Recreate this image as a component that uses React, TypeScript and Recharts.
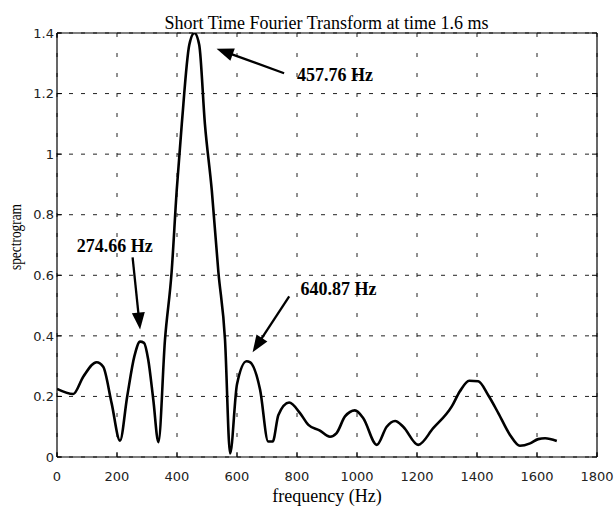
import React from 'react';
import { LineChart, Line, XAxis, YAxis, CartesianGrid, ReferenceLine, ReferenceDot } from 'recharts';

const frequencies = [
  0, 54, 88, 132, 154, 182, 210, 234, 258, 277, 290, 304, 321, 338, 360, 382, 399, 416, 441, 458,
  474, 493, 516, 538, 560, 577, 600, 632, 643, 677, 704, 719, 738, 774, 810, 838, 875, 910, 932, 960,
  993, 1021, 1066, 1099, 1127, 1154, 1204, 1254, 1316, 1343, 1374, 1404, 1438, 1471, 1510, 1543, 1577,
  1604, 1627, 1666,
];
const spectrogram = [
  0.225, 0.208, 0.266, 0.313, 0.298, 0.178, 0.054, 0.2, 0.333, 0.381, 0.377, 0.322, 0.189, 0.049, 0.388,
  0.61, 0.88, 1.1, 1.361, 1.4, 1.361, 1.1, 0.88, 0.61, 0.388, 0.012, 0.24, 0.316, 0.313, 0.222, 0.051,
  0.051, 0.139, 0.18, 0.145, 0.106, 0.088, 0.067, 0.079, 0.134, 0.154, 0.128, 0.04, 0.1, 0.119, 0.1,
  0.04, 0.095, 0.167, 0.217, 0.252, 0.25, 0.203, 0.145, 0.073, 0.037, 0.045, 0.059, 0.062, 0.053,
];
const xTicks = [0, 200, 400, 600, 800, 1000, 1200, 1400, 1600, 1800];
const yTicks = [0, 0.2, 0.4, 0.6, 0.8, 1, 1.2, 1.4];
const yTickLabels = ['0', '0.2', '0.4', '0.6', '0.8', '1', '1.2', '1.4'];

const titleText = 'Short Time Fourier Transform at time 1.6 ms';
const xLabelText = 'frequency (Hz)';
const yLabelText = 'spectrogram';

const annotationLabels = ['274.66 Hz', '457.76 Hz', '640.87 Hz'];
const annotationTextAt = [
  [66, 0.676],
  [800, 1.24],
  [812, 0.534],
];
const arrowTails = [
  [252, 0.659],
  [757, 1.267],
  [774, 0.53],
];
const arrowTips = [
  [277, 0.421],
  [532, 1.348],
  [652, 0.346],
];

const data = frequencies.map((f, i) => ({ f, s: spectrogram[i] }));

const tickFont = 'DejaVu Sans';
const serif = 'Liberation Serif';

const BottomTick = (props: any) => {
  const { x, y, payload } = props;
  return (
    <g>
      <line x1={x} y1={y} x2={x} y2={y - 5} stroke="#000" />
      <text x={x} y={y + 24} textAnchor="middle" fontFamily={tickFont} fontSize={13} fill="#222">
        {payload.value}
      </text>
    </g>
  );
};
const TopTick = (props: any) => {
  const { x, y } = props;
  return <line x1={x} y1={y} x2={x} y2={y + 5} stroke="#000" />;
};
const LeftTick = (props: any) => {
  const { x, y, payload } = props;
  const idx = yTicks.indexOf(payload.value);
  return (
    <g>
      <line x1={x} y1={y} x2={x + 5} y2={y} stroke="#000" />
      <text x={x - 3} y={y + 4.7} textAnchor="end" fontFamily={tickFont} fontSize={13} fill="#222">
        {idx >= 0 ? yTickLabels[idx] : String(payload.value)}
      </text>
    </g>
  );
};
const RightTick = (props: any) => {
  const { x, y } = props;
  return <line x1={x} y1={y} x2={x - 5} y2={y} stroke="#000" />;
};

const Arrow = (props: any) => {
  const { x1, y1, x2, y2 } = props;
  const dx = x2 - x1;
  const dy = y2 - y1;
  const len = Math.hypot(dx, dy) || 1;
  const ux = dx / len;
  const uy = dy / len;
  const hl = 17;
  const hw = 6.5;
  const bx = x2 - ux * hl;
  const by = y2 - uy * hl;
  const px = -uy;
  const py = ux;
  return (
    <g>
      <line x1={x1} y1={y1} x2={bx + ux * 2} y2={by + uy * 2} stroke="#000" strokeWidth={2.3} />
      <polygon
        points={`${x2},${y2} ${bx + px * hw},${by + py * hw} ${bx - px * hw},${by - py * hw}`}
        fill="#000"
      />
    </g>
  );
};

export default function App() {
  return (
    <div style={{ position: 'absolute', left: 0, top: 0, width: 615, height: 508, background: '#fff' }}>
      <LineChart
        width={615}
        height={508}
        data={data}
        margin={{ top: 32, right: 17, bottom: 0, left: 0 }}
      >
        <CartesianGrid horizontal vertical={false} stroke="#222" strokeDasharray="4 8" />
        <CartesianGrid horizontal={false} vertical stroke="#222" strokeDasharray="4 16" />
        <XAxis
          dataKey="f"
          type="number"
          domain={[0, 1800]}
          ticks={xTicks}
          allowDataOverflow
          height={51}
          tickSize={0}
          tickMargin={0}
          tickLine={false}
          axisLine={{ stroke: '#000', strokeWidth: 1.2 }}
          tick={<BottomTick />}
          interval={0}
        />
        <XAxis
          xAxisId="top"
          orientation="top"
          type="number"
          domain={[0, 1800]}
          ticks={xTicks}
          allowDataOverflow
          height={1}
          tickSize={0}
          tickMargin={0}
          tickLine={false}
          axisLine={{ stroke: '#000', strokeWidth: 1.2 }}
          tick={<TopTick />}
          interval={0}
        />
        <YAxis
          type="number"
          domain={[0, 1.4]}
          ticks={yTicks}
          allowDataOverflow
          width={57}
          tickSize={0}
          tickMargin={0}
          tickLine={false}
          axisLine={{ stroke: '#000', strokeWidth: 1.2 }}
          tick={<LeftTick />}
          interval={0}
        />
        <YAxis
          yAxisId="right"
          orientation="right"
          type="number"
          domain={[0, 1.4]}
          ticks={yTicks}
          allowDataOverflow
          width={1}
          tickSize={0}
          tickMargin={0}
          tickLine={false}
          axisLine={{ stroke: '#000', strokeWidth: 1.2 }}
          tick={<RightTick />}
          interval={0}
        />
        <Line
          type="monotone"
          dataKey="s"
          stroke="#000"
          strokeWidth={2.6}
          dot={false}
          isAnimationActive={false}
        />
        {annotationLabels.map((lab, i) => (
          <ReferenceLine
            key={'arrow' + i}
            segment={[
              { x: arrowTails[i][0], y: arrowTails[i][1] },
              { x: arrowTips[i][0], y: arrowTips[i][1] },
            ]}
            ifOverflow="visible"
            shape={(p: any) => <Arrow {...p} />}
          />
        ))}
        {annotationLabels.map((lab, i) => (
          <ReferenceDot
            key={'lab' + i}
            x={annotationTextAt[i][0]}
            y={annotationTextAt[i][1]}
            r={0}
            ifOverflow="visible"
            shape={(p: any) => (
              <text x={p.cx} y={p.cy} fontFamily={serif} fontWeight="bold" fontSize={18} fill="#000">
                {lab}
              </text>
            )}
          />
        ))}
      </LineChart>
      <svg
        width={615}
        height={508}
        style={{ position: 'absolute', left: 0, top: 0, pointerEvents: 'none' }}
      >
        <text x={326.5} y={29} textAnchor="middle" fontFamily={serif} fontSize={18} fill="#000">
          {titleText}
        </text>
        <text x={327} y={502} textAnchor="middle" fontFamily={serif} fontSize={18} fill="#000">
          {xLabelText}
        </text>
        <text
          transform="translate(21,237) rotate(-90)"
          textAnchor="middle"
          fontFamily={serif}
          fontSize={17}
          textLength={66}
          lengthAdjust="spacingAndGlyphs"
          fill="#000"
        >
          {yLabelText}
        </text>
      </svg>
    </div>
  );
}
